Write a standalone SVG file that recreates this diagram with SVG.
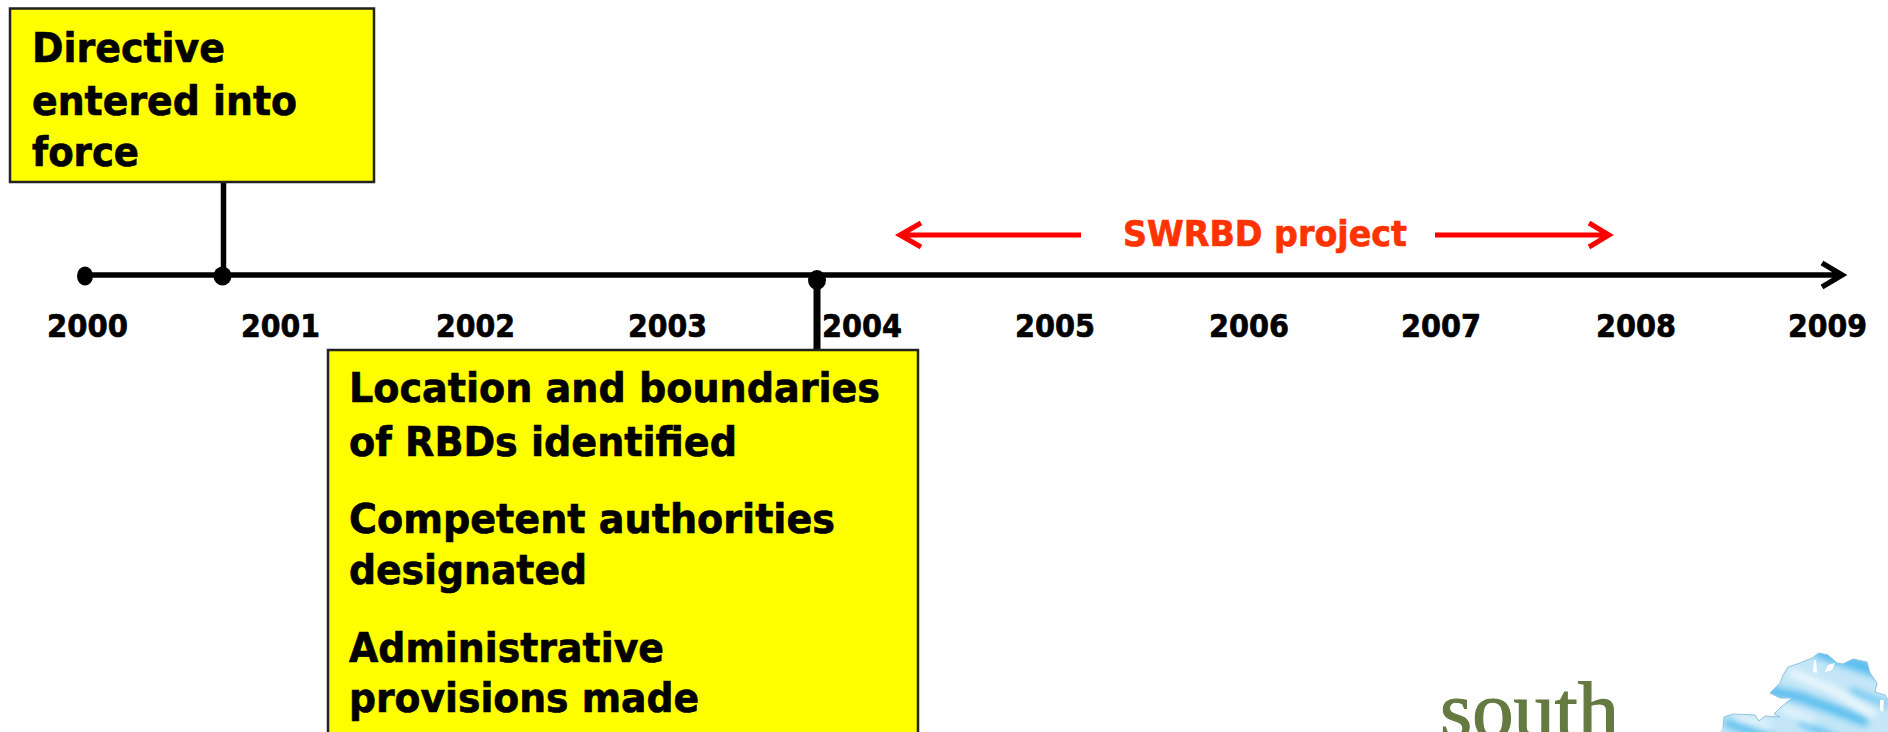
<svg xmlns="http://www.w3.org/2000/svg" width="1888" height="732" viewBox="0 0 1888 732">
<style>
text{font-family:"DejaVu Sans","Liberation Sans",sans-serif;font-weight:700;fill:#000;stroke:#000;stroke-width:.7px}
.box{fill:#ff0;stroke:#222;stroke-width:2.500}
.t{font-size:41px}
.y{font-size:32px}
.ax{stroke:#000;stroke-width:5.500;fill:none}
.red{stroke:#f00;stroke-width:5;fill:none}
text.swrbd{font-size:36px;fill:#f30;stroke:#f30}
text.logo{font-family:"Liberation Serif",serif;font-weight:400;font-size:80px;fill:#647a41;stroke:#647a41;stroke-width:1.200px}
</style>
<defs>
<filter id="blur" x="-20%" y="-20%" width="140%" height="140%"><feGaussianBlur stdDeviation="3.500"/></filter>
<clipPath id="mapclip"><path id="mapshape" d="M1723 727L1724 717L1733 714L1755 715L1759 721L1765 716L1780 717L1774 714L1780 708L1792 698L1780 698L1770 693L1780 683L1783 675L1788 667L1800 663L1812 658L1819 653L1828 655L1837 663L1843 664L1853 659L1867 662L1870 673L1877 683L1875 692L1885 695L1888 700L1888 732L1720 732Z"/></clipPath>
</defs>
<rect width="1888" height="732" fill="#fff"/>
<g id="connectors">
<path class="ax" d="M85 275H1840M1822 263L1842 275L1822 287"/>
<path class="ax" d="M223.500 182V275"/>
<path class="ax" style="stroke-width:7" d="M817 280V350"/>
<path class="red" d="M1081 235H900M921 223L900 235L921 247"/>
<path class="red" d="M1435 235H1609M1589 223L1609 235L1589 247"/>
</g>
<g id="dot-2000"><ellipse cx="85" cy="276" rx="8" ry="9.500"/></g>
<g id="dot-2001"><ellipse cx="222.500" cy="276" rx="9" ry="9.500"/></g>
<g id="dot-2003"><ellipse cx="817" cy="280" rx="9" ry="10"/></g>
<g id="years">
<text class="y" x="47" y="337" textLength="81" lengthAdjust="spacingAndGlyphs">2000</text>
<text class="y" x="241" y="337" textLength="79" lengthAdjust="spacingAndGlyphs">2001</text>
<text class="y" x="436" y="337" textLength="79" lengthAdjust="spacingAndGlyphs">2002</text>
<text class="y" x="628" y="337" textLength="79" lengthAdjust="spacingAndGlyphs">2003</text>
<text class="y" x="822" y="337" textLength="80" lengthAdjust="spacingAndGlyphs">2004</text>
<text class="y" x="1015" y="337" textLength="80" lengthAdjust="spacingAndGlyphs">2005</text>
<text class="y" x="1209" y="337" textLength="80" lengthAdjust="spacingAndGlyphs">2006</text>
<text class="y" x="1401" y="337" textLength="80" lengthAdjust="spacingAndGlyphs">2007</text>
<text class="y" x="1596" y="337" textLength="80" lengthAdjust="spacingAndGlyphs">2008</text>
<text class="y" x="1788" y="337" textLength="79" lengthAdjust="spacingAndGlyphs">2009</text>
</g>
<g id="node-directive">
<rect class="box" x="10" y="8.500" width="364" height="173.500"/>
<text class="t" x="32" y="62" textLength="193" lengthAdjust="spacingAndGlyphs">Directive</text>
<text class="t" x="32" y="115" textLength="265" lengthAdjust="spacingAndGlyphs">entered into</text>
<text class="t" x="32" y="166" textLength="107" lengthAdjust="spacingAndGlyphs">force</text>
</g>
<g id="node-milestones">
<rect class="box" x="328" y="350" width="590" height="400"/>
<text class="t" x="349" y="402" textLength="531" lengthAdjust="spacingAndGlyphs">Location and boundaries</text>
<text class="t" x="349" y="456" textLength="388" lengthAdjust="spacingAndGlyphs">of RBDs identified</text>
<text class="t" x="349" y="533" textLength="486" lengthAdjust="spacingAndGlyphs">Competent authorities</text>
<text class="t" x="349" y="584" textLength="238" lengthAdjust="spacingAndGlyphs">designated</text>
<text class="t" x="349" y="662" textLength="315" lengthAdjust="spacingAndGlyphs">Administrative</text>
<text class="t" x="349" y="712" textLength="350" lengthAdjust="spacingAndGlyphs">provisions made</text>
</g>
<g id="label-swrbd">
<text class="swrbd" x="1123" y="246" textLength="284" lengthAdjust="spacingAndGlyphs">SWRBD project</text>
</g>
<g id="logo">
<text class="logo" x="1440" y="737" textLength="179" lengthAdjust="spacingAndGlyphs">south</text>
<g clip-path="url(#mapclip)">
<rect x="1715" y="650" width="173" height="82" fill="#c4e6f7"/>
<g filter="url(#blur)" stroke="#58bdee" stroke-width="9" fill="none">
<path d="M1815 650L1880 672" stroke-width="13"/>
<path d="M1765 690L1800 697L1868 722" stroke-width="10"/>
<path d="M1725 722L1790 745" stroke-width="8"/>
<path d="M1850 690L1888 705" stroke-width="5"/>
<path d="M1800 722L1840 740" stroke-width="6"/>
</g>
<g filter="url(#blur)" stroke="#eef8fd" stroke-width="8" fill="none">
<path d="M1790 672L1833 690L1875 716"/>
<path d="M1782 708L1815 722" stroke-width="6"/>
<path d="M1735 716L1770 726" stroke-width="5"/>
</g>
</g>
<path d="M1723 727L1724 717L1733 714L1755 715L1759 721L1765 716L1780 717L1774 714L1780 708L1792 698L1780 698L1770 693L1780 683L1783 675L1788 667L1800 663L1812 658L1819 653L1828 655L1837 663L1843 664L1853 659L1867 662L1870 673L1877 683L1875 692L1885 695L1888 700" fill="none" stroke="#8fc4e2" stroke-width="1"/>
<path d="M1835 663L1828 665L1825 672L1832 670Z" fill="#fff"/>
<path d="M1814 660L1813 672L1817 673L1816 660Z" fill="#fff"/>
<path d="M1880 700L1884 700L1883 712L1880 710Z" fill="#fff"/>
</g>
</svg>
